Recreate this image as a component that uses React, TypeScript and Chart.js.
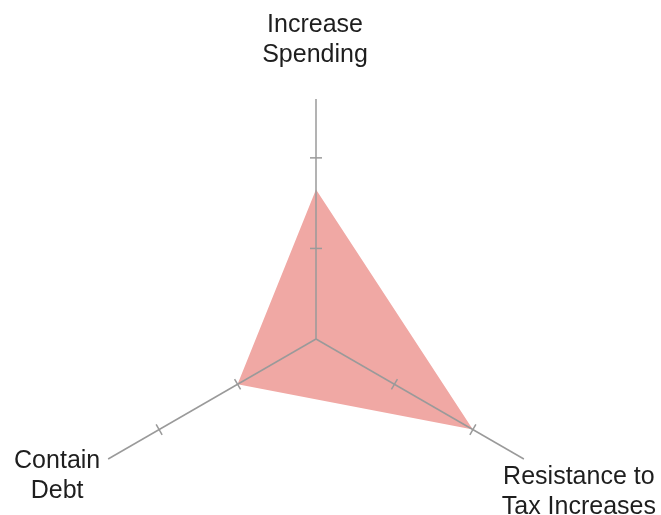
import React, { useEffect, useRef } from "react";
import { Chart, registerables } from "chart.js";

Chart.register(...registerables);

const categories = ["Increase Spending", "Resistance to Tax Increases", "Contain Debt"];
const labelLines = [
  ["Increase", "Spending"],
  ["Resistance to", "Tax Increases"],
  ["Contain", "Debt"],
];
const values = [1.65, 2, 1];
const tickValues = [1, 2];
const scaleMax = 2.65;

// label block offsets relative to each axis end (x shift, first baseline shift)
const labelOffsets = [
  { dx: -1, dy: -67 },
  { dx: 55, dy: 25 },
  { dx: -51, dy: 9 },
];
const lineHeight = 30;

export default function App() {
  const ref = useRef<HTMLCanvasElement>(null);

  useEffect(() => {
    if (!ref.current) return;
    const overlay = {
      id: "overlay",
      afterDatasetsDraw(chart: any) {
        const ctx = chart.ctx as CanvasRenderingContext2D;
        const r = chart.scales.r;
        ctx.save();
        ctx.strokeStyle = "#9a9a9a";
        ctx.lineWidth = 1.5;
        for (let i = 0; i < categories.length; i++) {
          const c = r.getPointPositionForValue(i, 0);
          const e = r.getPointPositionForValue(i, scaleMax);
          ctx.beginPath();
          ctx.moveTo(c.x, c.y);
          ctx.lineTo(e.x, e.y);
          ctx.stroke();
          const dx = e.x - c.x;
          const dy = e.y - c.y;
          const len = Math.hypot(dx, dy);
          const nx = -dy / len;
          const ny = dx / len;
          for (const v of tickValues) {
            const p = r.getPointPositionForValue(i, v);
            ctx.beginPath();
            ctx.moveTo(p.x - nx * 6, p.y - ny * 6);
            ctx.lineTo(p.x + nx * 6, p.y + ny * 6);
            ctx.stroke();
          }
          // labels
          ctx.fillStyle = "#1e1e1e";
          ctx.font = "25px 'Liberation Sans', Arial, sans-serif";
          ctx.textAlign = "center";
          ctx.textBaseline = "alphabetic";
          const off = labelOffsets[i];
          labelLines[i].forEach((t, k) => {
            ctx.fillText(t, e.x + off.dx, e.y + off.dy + k * lineHeight);
          });
        }
        ctx.restore();
      },
    };

    const chart = new Chart(ref.current, {
      type: "radar",
      data: {
        labels: categories,
        datasets: [
          {
            data: values,
            backgroundColor: "rgb(240,168,164)",
            borderWidth: 0,
            pointRadius: 0,
            fill: true,
          },
        ],
      },
      options: {
        responsive: false,
        animation: false,
        devicePixelRatio: 1,
        layout: { padding: { left: 76, right: 105, top: 99, bottom: 21 } },
        plugins: { legend: { display: false }, tooltip: { enabled: false } },
        elements: { line: { tension: 0 } },
        scales: {
          r: {
            min: 0,
            max: scaleMax,
            ticks: { display: false, stepSize: 1 },
            grid: { display: false },
            angleLines: { display: false },
            pointLabels: { display: false },
          },
        },
      },
      plugins: [overlay],
    });
    return () => chart.destroy();
  }, []);

  return (
    <div
      style={{
        position: "fixed",
        left: 0,
        top: 0,
        width: 661,
        height: 515,
        overflow: "hidden",
        background: "#ffffff",
      }}
    >
      <canvas ref={ref} width={661} height={600} style={{ display: "block" }} />
    </div>
  );
}
